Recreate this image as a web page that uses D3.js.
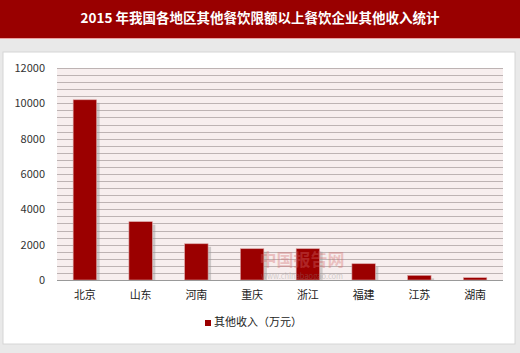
<!DOCTYPE html>
<html>
<head>
<meta charset="utf-8">
<script src="https://cdn.jsdelivr.net/npm/d3@7"></script>
<style>
  body { margin: 0; background: #e9e9e9; }
  svg { display: block; }
</style>
</head>
<body>
<svg></svg>
<script>
const titleText = "2015 年我国各地区其他餐饮限额以上餐饮企业其他收入统计";
const regions = ["北京", "山东", "河南", "重庆", "浙江", "福建", "江苏", "湖南"];
const income = [10200, 3300, 2050, 1770, 1770, 920, 260, 130];
const yTicks = [0, 2000, 4000, 6000, 8000, 10000, 12000];
const seriesName = "其他收入（万元）";

const W = 520, H = 353;
const margin = { l: 57, r: 17, t: 68, b: 73 };
const width = W - margin.l - margin.r;
const height = H - margin.t - margin.b;
const font = "'Noto Sans CJK SC', sans-serif";

const svg = d3.select("svg").attr("width", W).attr("height", H);

// Title bar
svg.append("rect").attr("x", 0).attr("y", 0).attr("width", W).attr("height", 38).attr("fill", "#990000");
svg.append("rect").attr("x", 0).attr("y", 38).attr("width", W).attr("height", 1).attr("fill", "#e8a0a0");
svg.append("text")
  .attr("x", W / 2).attr("y", 19)
  .attr("text-anchor", "middle").attr("dominant-baseline", "middle")
  .attr("fill", "#fff").attr("font-family", font).attr("font-weight", "bold").attr("font-size", 13.5)
  .text(titleText);

// White panel
svg.append("rect").attr("x", 3).attr("y", 52).attr("width", 512).attr("height", 292)
  .attr("fill", "#fff").attr("stroke", "#d6d6d6");

const g = svg.append("g").attr("transform", `translate(${margin.l}, ${margin.t})`);

// Scales
const x = d3.scaleBand().domain(regions).range([0, width]).paddingInner(0.58).paddingOuter(0.29);
const y = d3.scaleLinear().domain([0, 12000]).range([height, 0]);

// Plot background and gridlines
g.append("rect").attr("width", width).attr("height", height).attr("fill", "#f7eeee");
g.selectAll(".grid")
  .data(d3.range(400, 12001, 400))
  .enter().append("line")
    .attr("x1", 0).attr("x2", width)
    .attr("y1", d => Math.round(y(d)) + 0.5).attr("y2", d => Math.round(y(d)) + 0.5)
    .attr("stroke", "#bdb3b3").attr("stroke-width", 1);

// Y axis labels
const yAxis = g.append("g")
  .call(d3.axisLeft(y).tickValues(yTicks).tickFormat(d3.format("d")).tickSize(0).tickPadding(12));
yAxis.select(".domain").remove();
yAxis.selectAll("text").attr("font-family", font).attr("font-size", 11).attr("fill", "#333");

// Bar shadows
g.selectAll(".shadow")
  .data(regions)
  .enter().append("rect")
    .attr("x", d => x(d) + 3)
    .attr("y", (d, i) => y(income[i]) + 3)
    .attr("width", x.bandwidth())
    .attr("height", (d, i) => height - y(income[i]) - 3)
    .attr("fill", "#9a9a9a").attr("opacity", 0.45);

// Bars
g.selectAll(".bar")
  .data(regions)
  .enter().append("rect")
    .attr("x", d => x(d))
    .attr("y", (d, i) => y(income[i]))
    .attr("width", x.bandwidth())
    .attr("height", (d, i) => height - y(income[i]))
    .attr("fill", "#9b0000").attr("stroke", "#d9a0a0").attr("stroke-width", 0.6);

// Zero line
g.append("line").attr("x1", 0).attr("x2", width)
  .attr("y1", height + 0.5).attr("y2", height + 0.5).attr("stroke", "#999");

// Watermark
const wm = g.append("g").attr("opacity", 0.35);
wm.append("text").attr("x", 245).attr("y", height - 14)
  .attr("text-anchor", "middle").attr("font-family", font).attr("font-weight", "bold")
  .attr("font-size", 17).attr("fill", "#d46a6a").text("中国报告网");
wm.append("text").attr("x", 245).attr("y", height - 1)
  .attr("text-anchor", "middle").attr("font-family", font)
  .attr("font-size", 7.5).attr("fill", "#888").text("www.chinabaogao.com");

// X axis labels
const xAxis = g.append("g").attr("transform", `translate(0, ${height})`)
  .call(d3.axisBottom(x).tickSize(0).tickPadding(11));
xAxis.select(".domain").remove();
xAxis.selectAll("text").attr("font-family", font).attr("font-size", 11).attr("fill", "#222");

// Legend
const leg = svg.append("g").attr("transform", "translate(205, 323)");
leg.append("rect").attr("x", 0).attr("y", -3).attr("width", 6).attr("height", 6).attr("fill", "#9b0000");
leg.append("text").attr("x", 9).attr("y", 0).attr("dominant-baseline", "middle")
  .attr("font-family", font).attr("font-size", 11).attr("fill", "#222").text(seriesName);
</script>
</body>
</html>
